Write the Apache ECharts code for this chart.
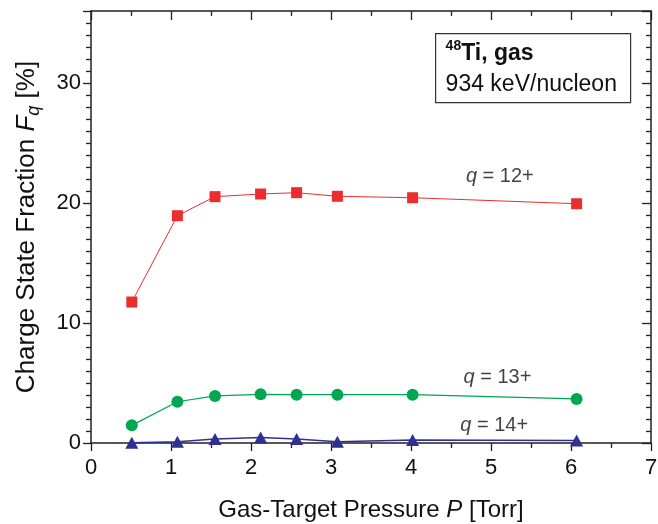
<!DOCTYPE html>
<html>
<head>
<meta charset="utf-8">
<script src="https://cdn.jsdelivr.net/npm/echarts@6/dist/echarts.min.js"></script>
<style>
html,body{margin:0;padding:0;background:#fff;}
#chart{width:658px;height:524px;}
</style>
</head>
<body>
<div id="chart"></div>
<script>
// Data
var pressure = [0.51, 1.08, 1.55, 2.12, 2.57, 3.08, 4.02, 6.07];
var q12 = [11.75, 18.94, 20.53, 20.75, 20.86, 20.56, 20.44, 19.94];
var q13 = [1.47, 3.44, 3.92, 4.06, 4.03, 4.03, 4.03, 3.67];
var q14 = [0.03, 0.10, 0.33, 0.45, 0.33, 0.10, 0.25, 0.20];
var seriesNames = ['12+', '13+', '14+'];
var labelPos = [[5.11, 22.2], [5.08, 5.5], [5.04, 1.5]];
var xTicks = [0, 1, 2, 3, 4, 5, 6, 7];
var yTicks = [0, 10, 20, 30];

var FONT = '"Liberation Sans", Arial, Helvetica, sans-serif';
var AX = '#231f20';
var RED = '#ec2d2f', GREEN = '#00a650', BLUE = '#2e3192';

function pairs(xs, ys) { return xs.map(function (x, i) { return [x, ys[i]]; }); }

var chart = echarts.init(document.getElementById('chart'), null, {renderer: 'canvas'});

var axisCommon = {
  axisLine: {show: true, onZero: false, lineStyle: {color: AX, width: 1.5}},
  splitLine: {show: false}
};

var option = {
  animation: false,
  backgroundColor: '#fff',
  textStyle: {fontFamily: FONT},
  grid: {left: 91, right: 7, top: 11, bottom: 81, containLabel: false, outerBoundsMode: 'none'},
  xAxis: [
    Object.assign({}, axisCommon, {
      type: 'value', position: 'bottom', min: xTicks[0], max: xTicks[xTicks.length - 1], interval: 1,
      axisTick: {show: true, inside: false, length: 8, lineStyle: {color: AX, width: 1.3}},
      minorTick: {show: true, splitNumber: 2, length: 5, lineStyle: {color: AX, width: 1.3}},
      axisLabel: {show: true, color: '#111', fontSize: 22, fontFamily: FONT, margin: 14},
      name: '{a|Gas-Target Pressure }{i|P}{a| [Torr]}',
      nameLocation: 'middle', nameGap: 55,
      nameTextStyle: {
        rich: {
          a: {fontSize: 24, fontFamily: FONT, color: '#111'},
          i: {fontSize: 24, fontFamily: FONT, fontStyle: 'italic', color: '#111'}
        }
      }
    }),
    Object.assign({}, axisCommon, {
      type: 'value', position: 'top', min: xTicks[0], max: xTicks[xTicks.length - 1], interval: 1,
      axisTick: {show: true, inside: true, length: 9, lineStyle: {color: AX, width: 1.3}},
      minorTick: {show: true, splitNumber: 2, length: 5, lineStyle: {color: AX, width: 1.3}},
      axisLabel: {show: false}
    })
  ],
  yAxis: [
    Object.assign({}, axisCommon, {
      type: 'value', position: 'left', min: 0, max: 36, interval: 10,
      axisTick: {show: true, inside: false, length: 8, lineStyle: {color: AX, width: 1.3}},
      minorTick: {show: true, splitNumber: 10, length: 5, lineStyle: {color: AX, width: 1.3}},
      axisLabel: {
        show: true, color: '#111', fontSize: 22, fontFamily: FONT, margin: 10,
        formatter: function (v) { return yTicks.indexOf(v) >= 0 ? String(v) : ''; }
      },
      name: '{a|Charge State Fraction }{i|F}{s|q}{a| [%]}',
      nameLocation: 'middle', nameGap: 48, nameRotate: 90,
      nameTextStyle: {
        rich: {
          a: {fontSize: 26, fontFamily: FONT, color: '#111', lineHeight: 32},
          i: {fontSize: 26, fontFamily: FONT, fontStyle: 'italic', color: '#111', lineHeight: 32},
          s: {fontSize: 18, fontFamily: FONT, fontStyle: 'italic', color: '#111', lineHeight: 17, verticalAlign: 'bottom'}
        }
      }
    }),
    Object.assign({}, axisCommon, {
      type: 'value', position: 'right', min: 0, max: 36, interval: 10,
      axisTick: {show: true, inside: true, length: 9, lineStyle: {color: AX, width: 1.3}},
      minorTick: {show: true, splitNumber: 10, length: 5, lineStyle: {color: AX, width: 1.3}},
      axisLabel: {show: false}
    })
  ],
  series: [
    {
      name: 'q = 12+', type: 'line', data: pairs(pressure, q12),
      symbol: 'rect', symbolSize: 11, showAllSymbol: true,
      lineStyle: {color: RED, width: 1}, itemStyle: {color: RED}
    },
    {
      name: 'q = 13+', type: 'line', data: pairs(pressure, q13),
      symbol: 'circle', symbolSize: 12, showAllSymbol: true,
      lineStyle: {color: GREEN, width: 1.2}, itemStyle: {color: GREEN}
    },
    {
      name: 'q = 14+', type: 'line', data: pairs(pressure, q14),
      symbol: 'triangle', symbolSize: [13, 12], showAllSymbol: true,
      lineStyle: {color: BLUE, width: 1.5}, itemStyle: {color: BLUE}
    },
    {
      name: 'labels', type: 'scatter', symbolSize: 1, silent: true,
      itemStyle: {color: 'rgba(0,0,0,0)'},
      data: labelPos.map(function (p, i) { return {value: p, name: seriesNames[i]}; }),
      label: {
        show: true, position: 'inside',
        formatter: function (p) { return '{i|q}{a| = ' + p.name + '}'; },
        rich: {
          a: {fontSize: 20, fontFamily: FONT, color: '#111'},
          i: {fontSize: 20, fontFamily: FONT, fontStyle: 'italic', color: '#111'}
        }
      }
    }
  ],
  graphic: [
    {
      type: 'group', left: 435, top: 33,
      children: [
        {type: 'rect', shape: {x: 0, y: 0, width: 195, height: 69}, style: {fill: '#fff', stroke: '#333', lineWidth: 1.2}},
        {
          type: 'text', x: 10, y: 6,
          style: {
            text: '{sup|48}{b|Ti, gas}',
            rich: {
              sup: {fontSize: 14, fontFamily: FONT, fontWeight: 'bold', fill: '#111', lineHeight: 16, verticalAlign: 'top'},
              b: {fontSize: 23, fontFamily: FONT, fontWeight: 'bold', fill: '#111', lineHeight: 28}
            }
          }
        },
        {
          type: 'text', x: 10, y: 37,
          style: {text: '934 keV/nucleon', fontSize: 23, fontFamily: FONT, fill: '#111', lineHeight: 28}
        }
      ]
    }
  ]
};
chart.setOption(option);
</script>
</body>
</html>
